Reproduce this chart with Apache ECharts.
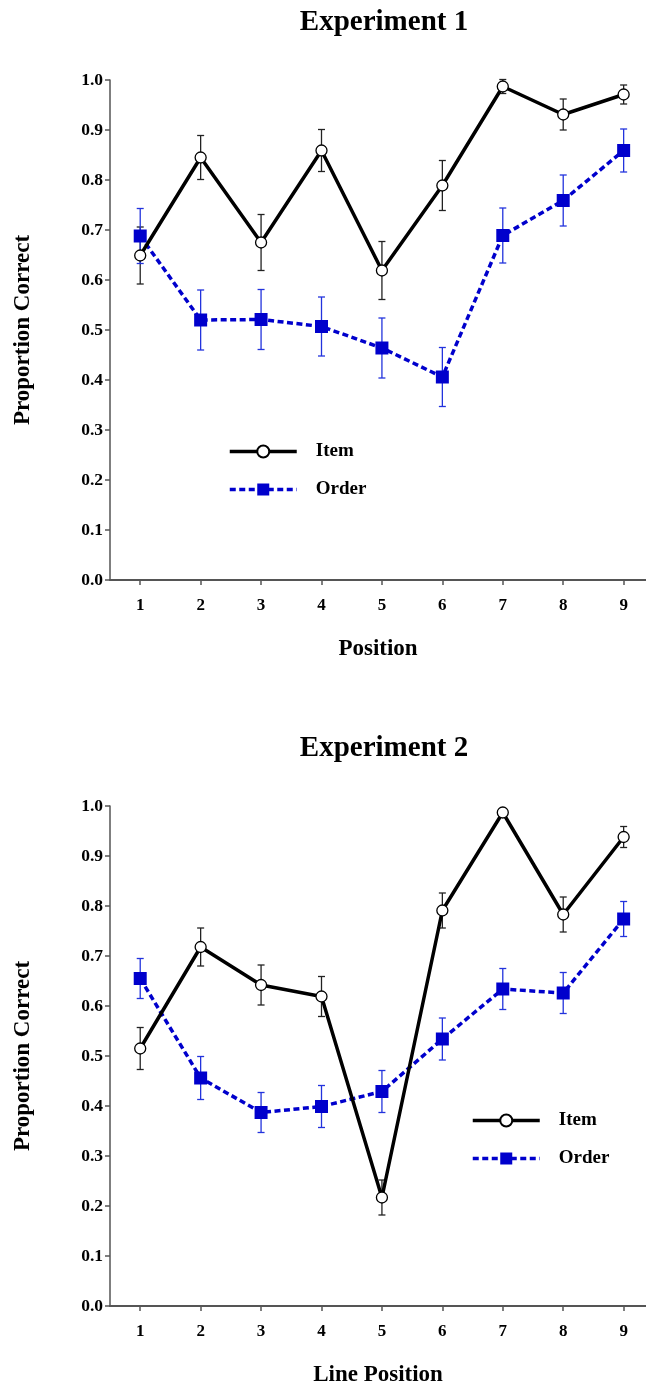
<!DOCTYPE html>
<html>
<head>
<meta charset="utf-8">
<script src="https://cdn.jsdelivr.net/npm/echarts@6/dist/echarts.min.js"></script>
<style>
html,body{margin:0;padding:0;background:#fff;}
#c{width:646px;height:1390px;}
</style>
</head>
<body>
<div id="c"></div>
<script>
var positions = [1, 2, 3, 4, 5, 6, 7, 8, 9];
var yTicks = ['0.0','0.1','0.2','0.3','0.4','0.5','0.6','0.7','0.8','0.9','1.0'];
var titles = ['Experiment 1', 'Experiment 2'];
var xNames = ['Position', 'Line Position'];
var yName = 'Proportion Correct';
var seriesNames = ['Item', 'Order'];

var item1    = [0.649, 0.845, 0.675, 0.859, 0.619, 0.789, 0.987, 0.931, 0.971];
var item1Err = [0.057, 0.044, 0.056, 0.042, 0.058, 0.050, 0.014, 0.031, 0.019];
var order1    = [0.688, 0.520, 0.521, 0.507, 0.464, 0.406, 0.689, 0.759, 0.859];
var order1Err = [0.055, 0.060, 0.060, 0.059, 0.060, 0.059, 0.055, 0.051, 0.043];

var item2    = [0.515, 0.718, 0.642, 0.619, 0.217, 0.791, 0.987, 0.783, 0.938];
var item2Err = [0.042, 0.038, 0.040, 0.040, 0.035, 0.035, 0.008, 0.035, 0.021];
var order2    = [0.655, 0.456, 0.387, 0.399, 0.429, 0.534, 0.634, 0.626, 0.774];
var order2Err = [0.040, 0.043, 0.040, 0.042, 0.042, 0.042, 0.041, 0.041, 0.035];

var FONT = '"Liberation Serif", "DejaVu Serif", serif';
var BLUE = '#0000cc';

function pts(vals){ return positions.map(function(p,i){ return [p, vals[i]]; }); }
function errs(vals, e){ return positions.map(function(p,i){ return [p, vals[i]-e[i], vals[i]+e[i]]; }); }

function errRender(color){
  return function(params, api){
    var x = api.value(0), lo = api.value(1), hi = api.value(2);
    var a = api.coord([x, hi]), b = api.coord([x, lo]);
    var w = 3.5;
    var st = {stroke: color, lineWidth: 1.3};
    return {type:'group', children:[
      {type:'line', shape:{x1:a[0],y1:a[1],x2:b[0],y2:b[1]}, style:st},
      {type:'line', shape:{x1:a[0]-w,y1:a[1],x2:a[0]+w,y2:a[1]}, style:st},
      {type:'line', shape:{x1:b[0]-w,y1:b[1],x2:b[0]+w,y2:b[1]}, style:st}
    ]};
  };
}

var grids = [
  {left:110, top:80, width:536, height:500},
  {left:110, top:806, width:536, height:500}
];

function xAxis(i){
  return {
    type:'value', gridIndex:i, min:0.5, max:9.37,
    name: xNames[i], nameLocation:'middle', nameGap: 58,
    nameTextStyle:{fontFamily:FONT, fontWeight:'bold', fontSize:23, color:'#000'},
    axisLine:{show:true, onZero:false, lineStyle:{color:'#555', width:2}},
    axisTick:{show:true, length:5, inside:false, customValues: positions, lineStyle:{color:'#555', width:1.5}},
    axisLabel:{customValues: positions, margin:17, fontFamily:FONT, fontWeight:'bold', fontSize:17, color:'#000'},
    splitLine:{show:false}
  };
}
function yAxis(i){
  return {
    type:'value', gridIndex:i, min:0, max:1, interval:0.1,
    name: yName, nameLocation:'middle', nameGap: 75, nameRotate:90,
    nameTextStyle:{fontFamily:FONT, fontWeight:'bold', fontSize:23, color:'#000'},
    axisLine:{show:true, lineStyle:{color:'#555', width:1.5}},
    axisTick:{show:true, length:5, lineStyle:{color:'#555', width:1.5}},
    axisLabel:{margin:7, fontFamily:FONT, fontWeight:'bold', fontSize:17.5, color:'#000',
      formatter:function(v){ return yTicks[Math.round(v*10)]; }},
    splitLine:{show:false}
  };
}

function panelSeries(i, item, itemErr, order, orderErr){
  return [
    {type:'custom', name:'itemErr'+i, xAxisIndex:i, yAxisIndex:i, renderItem:errRender('#222'),
     data: errs(item, itemErr), z:1, silent:true},
    {type:'custom', name:'orderErr'+i, xAxisIndex:i, yAxisIndex:i, renderItem:errRender('#2233dd'),
     data: errs(order, orderErr), z:1, silent:true},
    {type:'line', name:seriesNames[0], xAxisIndex:i, yAxisIndex:i, data: pts(item),
     symbol:'circle', symbolSize:11, z:4,
     lineStyle:{color:'#000', width:3.5},
     itemStyle:{color:'#fff', borderColor:'#000', borderWidth:1.3},
     animation:false},
    {type:'line', name:seriesNames[1], xAxisIndex:i, yAxisIndex:i, data: pts(order),
     symbol:'rect', symbolSize:13, z:3,
     lineStyle:{color:BLUE, width:3.5, type:[6,3.5]},
     itemStyle:{color:BLUE, borderWidth:0},
     animation:false}
  ];
}

var legendBase = {orient:'vertical', data:seriesNames, itemWidth:67, itemHeight:15, itemGap:19,
  lineStyle:{width:3.5},
  textStyle:{fontFamily:FONT, fontWeight:'bold', fontSize:19, color:'#000', padding:[0,0,0,14]}};

var chart = echarts.init(document.getElementById('c'), null, {renderer:'canvas'});
chart.setOption({
  animation:false,
  backgroundColor:'#fff',
  title:[
    {text:titles[0], left:379, top:3, textAlign:'center', textStyle:{fontFamily:FONT, fontWeight:'bold', fontSize:29, color:'#000'}},
    {text:titles[1], left:379, top:729, textAlign:'center', textStyle:{fontFamily:FONT, fontWeight:'bold', fontSize:29, color:'#000'}}
  ],
  legend:[
    Object.assign({left:223, top:437}, legendBase),
    Object.assign({left:466, top:1106}, legendBase)
  ],
  grid: grids,
  xAxis:[xAxis(0), xAxis(1)],
  yAxis:[yAxis(0), yAxis(1)],
  series: panelSeries(0, item1, item1Err, order1, order1Err)
    .concat(panelSeries(1, item2, item2Err, order2, order2Err))
});
</script>
</body>
</html>
